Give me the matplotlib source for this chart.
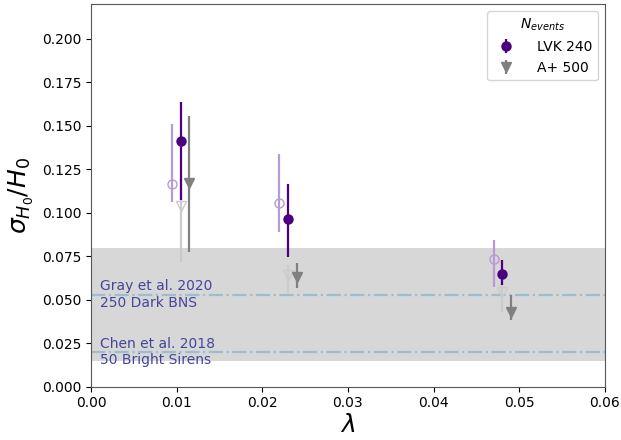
import matplotlib
matplotlib.use("Agg")
import matplotlib.pyplot as plt
import numpy as np

# lambda positions for each series
lam_lvk_alt = [0.0095, 0.022, 0.047]
lam_lvk = [0.0105, 0.023, 0.048]
lam_aplus_alt = [0.0105, 0.023, 0.048]
lam_aplus = [0.0115, 0.024, 0.049]

# sigma_H0/H0 medians and interval bounds
lvk_alt_mid = [0.1165, 0.1055, 0.0735]
lvk_alt_lo = [0.1059, 0.0888, 0.0575]
lvk_alt_hi = [0.1512, 0.1339, 0.0844]

lvk_mid = [0.1414, 0.0963, 0.0648]
lvk_lo = [0.1074, 0.0748, 0.0585]
lvk_hi = [0.1634, 0.1165, 0.0729]

aplus_alt_mid = [0.1036, 0.0643, 0.0547]
aplus_alt_lo = [0.0719, 0.0539, 0.0432]
aplus_alt_hi = [0.1200, 0.0700, 0.0600]

aplus_mid = [0.1170, 0.0633, 0.0432]
aplus_lo = [0.0773, 0.0566, 0.0384]
aplus_hi = [0.1558, 0.0710, 0.0528]

# reference forecasts
band_lo, band_hi = 0.015, 0.080
ref_values = [0.053, 0.020]
ref_labels = ["Gray et al. 2020\n250 Dark BNS", "Chen et al. 2018\n50 Bright Sirens"]

purple = "#4b0082"
light_purple = "#b79ad6"
grey = "#808080"
light_grey = "#cbcbcb"

fig = plt.figure(figsize=(6.21, 4.40), dpi=100)
ax = fig.add_axes([0.1465, 0.121, 0.8275, 0.870])

ax.axhspan(band_lo, band_hi, color="#d7d7d7", zorder=0, lw=0)
for v, t in zip(ref_values, ref_labels):
    ax.axhline(v, color="#9dbccf", ls="-.", lw=1.6, zorder=1)
    ax.text(0.001, v, t, color="#45459a", fontsize=10, va="center", ha="left",
            linespacing=1.2, zorder=2)


def err(mid, lo, hi):
    mid = np.asarray(mid); lo = np.asarray(lo); hi = np.asarray(hi)
    return np.vstack([mid - lo, hi - mid])


ax.errorbar(lam_aplus_alt, aplus_alt_mid, yerr=err(aplus_alt_mid, aplus_alt_lo, aplus_alt_hi),
            fmt="v", mfc="none", mec=light_grey, ecolor=light_grey, ms=7, elinewidth=1.6,
            capsize=0, zorder=3)
ax.errorbar(lam_lvk_alt, lvk_alt_mid, yerr=err(lvk_alt_mid, lvk_alt_lo, lvk_alt_hi),
            fmt="o", mfc="none", mec=light_purple, ecolor=light_purple, ms=6.5, elinewidth=1.6,
            capsize=0, zorder=3)
ax.errorbar(lam_lvk, lvk_mid, yerr=err(lvk_mid, lvk_lo, lvk_hi),
            fmt="o", color=purple, ms=6.5, elinewidth=1.6, capsize=0, zorder=4,
            label="LVK 240")
ax.errorbar(lam_aplus, aplus_mid, yerr=err(aplus_mid, aplus_lo, aplus_hi),
            fmt="v", color=grey, ms=7, elinewidth=1.6, capsize=0, zorder=4,
            label="A+ 500")

ax.set_xlim(0, 0.06)
ax.set_ylim(0, 0.22)
ax.set_xticks(np.arange(0, 0.061, 0.01))
ax.set_yticks(np.arange(0, 0.201, 0.025))
ax.xaxis.set_major_formatter(matplotlib.ticker.FormatStrFormatter("%.2f"))
ax.yaxis.set_major_formatter(matplotlib.ticker.FormatStrFormatter("%.3f"))
ax.tick_params(labelsize=10)
for s in ax.spines.values():
    s.set_color("#555555")

ax.set_xlabel(r"$\lambda$", fontsize=18, labelpad=2)
ax.set_ylabel(r"$\sigma_{H_0}/H_0$", fontsize=18, labelpad=4)

ax.legend(title=r"$N_{events}$", loc="upper right", fontsize=10, title_fontsize=10,
          handletextpad=1.2)

fig.savefig("out.png", dpi=100)
